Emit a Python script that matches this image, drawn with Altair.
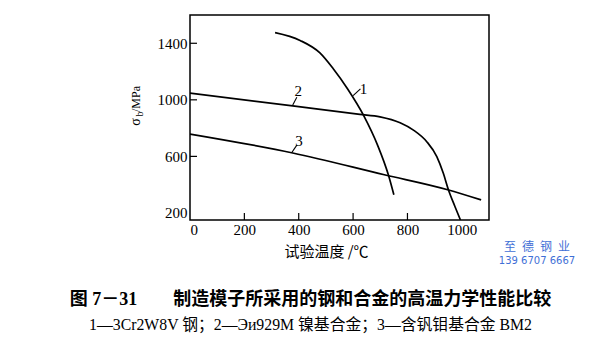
import altair as alt
import pandas as pd

# curve data (temperature in °C, strength in MPa)
c1_t = [313, 405, 478, 527, 580, 640, 690, 730, 750]
c1_s = [1475, 1420, 1332, 1220, 1077, 885, 680, 468, 328]
c2_t = [0, 378, 625, 699, 773, 822, 871, 908, 932, 951, 975, 995]
c2_s = [1047, 957, 897, 880, 838, 786, 704, 598, 480, 362, 244, 150]
c3_t = [0, 378, 715, 948, 1071]
c3_s = [758, 624, 470, 364, 292]

label_text = ["1", "2", "3"]
label_t = [638, 398, 401]
label_s = [1076, 1064, 711]
leader_t = [600, 378, 374]
leader_s = [1030, 963, 626]
leader_t2 = [627, 393, 393]
leader_s2 = [1078, 1018, 680]

x_labels = [0, 200, 400, 600, 800, 1000]
y_labels = [200, 600, 1000, 1400]
x_inner_ticks = [200, 400, 600, 800]
y_inner_ticks = [600, 1000, 1400]

x_title = "试验温度 /℃"
y_title_parts = ["σ", "b", "/MPa"]
caption1 = "图 7－31\u2003\u2003制造模子所采用的钢和合金的高温力学性能比较"
caption2 = "1—3Cr2W8V 钢；2—Эи929M 镍基合金；3—含钒钼基合金 BM2"
wm_line1 = "至\u2002德\u2002钢\u2002业"
wm_line2 = "139 6707 6667"

W, H = 299, 205
SERIF = "Liberation Serif"
CJK = "Noto Sans CJK SC"

rows = []
for cid, ts, ss in (("1", c1_t, c1_s), ("2", c2_t, c2_s), ("3", c3_t, c3_s)):
    for t, s in zip(ts, ss):
        rows.append({"curve": cid, "t": t, "s": s})
curves = pd.DataFrame(rows)

labels = pd.DataFrame({"txt": label_text, "t": label_t, "s": label_s,
                       "t1": leader_t, "s1": leader_s, "t2": leader_t2, "s2": leader_s2})

xs = alt.Scale(domain=[0, 1100], nice=False, zero=False)
ys = alt.Scale(domain=[150, 1600], nice=False, zero=False)

xaxis = alt.Axis(values=x_labels, format="d", ticks=False, domain=False, grid=False,
                 labelFont=SERIF, labelFontSize=15, labelColor="black", labelPadding=2,
                 title=x_title, titleFont=CJK, titleFontSize=15, titleFontWeight="normal",
                 titleColor="black", titleX=136, titleY=31, titleBaseline="middle",
                 titleAlign="center")
yaxis = alt.Axis(values=y_labels, format="d", ticks=False, domain=False, grid=False,
                 labelFont=SERIF, labelFontSize=15, labelColor="black", labelPadding=3,
                 title=None)

lines = alt.Chart(curves).mark_line(interpolate="monotone", color="black",
                                    strokeWidth=1.7, clip=True).encode(
    x=alt.X("t:Q", scale=xs, axis=xaxis),
    y=alt.Y("s:Q", scale=ys, axis=yaxis),
    detail="curve:N",
)

leaders = alt.Chart(labels).mark_rule(color="black", strokeWidth=1.1).encode(
    x=alt.X("t1:Q", scale=xs), y=alt.Y("s1:Q", scale=ys),
    x2="t2:Q", y2="s2:Q",
)

texts = alt.Chart(labels).mark_text(font=SERIF, fontSize=15, color="black",
                                    align="center", baseline="middle").encode(
    x=alt.X("t:Q", scale=xs), y=alt.Y("s:Q", scale=ys), text="txt:N",
)

xt = alt.Chart(pd.DataFrame({"v": x_inner_ticks})).mark_rule(color="black", strokeWidth=1.2).encode(
    x=alt.X("v:Q", scale=xs), y=alt.value(H - 7), y2=alt.value(H),
)
yt = alt.Chart(pd.DataFrame({"v": y_inner_ticks})).mark_rule(color="black", strokeWidth=1.2).encode(
    y=alt.Y("v:Q", scale=ys), x=alt.value(0), x2=alt.value(7),
)

one = pd.DataFrame({"a": [0]})
ytitle_sigma = alt.Chart(one).mark_text(font=SERIF, fontSize=14, angle=270, color="black",
                                        align="center", baseline="middle", text=y_title_parts[0]).encode(
    x=alt.value(-54), y=alt.value(107))
ytitle_b = alt.Chart(one).mark_text(font=SERIF, fontSize=10, angle=270, color="black",
                                    align="center", baseline="middle", text=y_title_parts[1]).encode(
    x=alt.value(-50), y=alt.value(99))
ytitle_rest = alt.Chart(one).mark_text(font=SERIF, fontSize=12, angle=270, color="black",
                                       align="center", baseline="middle", text=y_title_parts[2]).encode(
    x=alt.value(-54), y=alt.value(84))

wm1 = alt.Chart(one).mark_text(font=CJK, fontSize=12, color="#3f6fd6", align="center",
                               baseline="middle", text=wm_line1).encode(
    x=alt.value(347), y=alt.value(232))
wm2 = alt.Chart(one).mark_text(font="DejaVu Sans", fontSize=10, color="#3f6fd6", align="center",
                               baseline="middle", text=wm_line2).encode(
    x=alt.value(347), y=alt.value(246))

chart = alt.layer(lines, leaders, texts, xt, yt, ytitle_sigma, ytitle_b, ytitle_rest, wm1, wm2).properties(
    width=W, height=H,
    padding={"left": 190, "top": 15, "right": 111, "bottom": 131},
    autosize="none",
    background="white",
    title=alt.TitleParams(
        text=caption1, subtitle=caption2, orient="bottom", anchor="middle",
        font=f"{SERIF}, {CJK}", fontSize=18, fontWeight="bold", color="black",
        subtitleFont=f"{SERIF}, {CJK}", subtitleFontSize=15.8, subtitleColor="black",
        subtitlePadding=9, offset=25, dx=-29,
    ),
).configure_view(stroke="black", strokeWidth=1.5)

chart.save("out.html", embed_options={"renderer": "svg", "actions": False})
